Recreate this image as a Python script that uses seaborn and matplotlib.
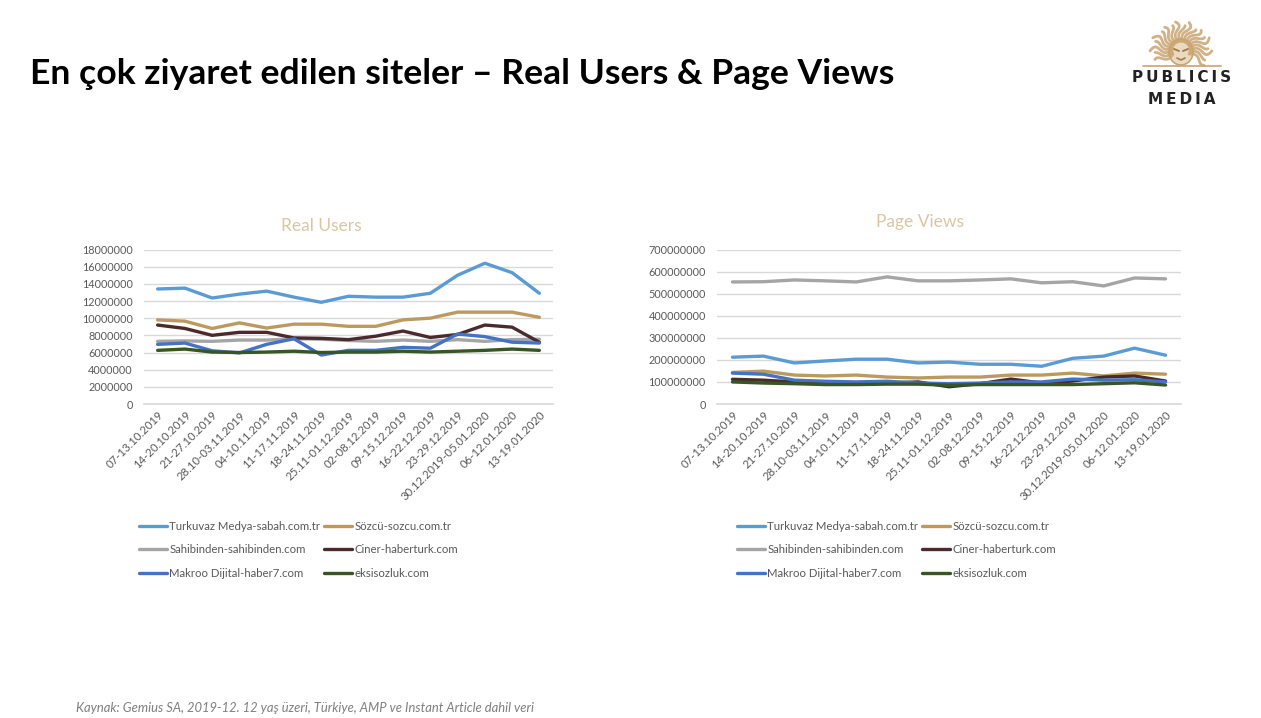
import numpy as np
import pandas as pd
import matplotlib
matplotlib.use("Agg")
import matplotlib.pyplot as plt
from matplotlib.patches import Ellipse
import seaborn as sns

weeks = ["07-13.10.2019", "14-20.10.2019", "21-27.10.2019", "28.10-03.11.2019",
         "04-10.11.2019", "11-17.11.2019", "18-24.11.2019", "25.11-01.12.2019",
         "02-08.12.2019", "09-15.12.2019", "16-22.12.2019", "23-29.12.2019",
         "30.12.2019-05.01.2020", "06-12.01.2020", "13-19.01.2020"]
sites = ["Turkuvaz Medya-sabah.com.tr", "Sözcü-sozcu.com.tr", "Sahibinden-sahibinden.com",
         "Ciner-haberturk.com", "Makroo Dijital-haber7.com", "eksisozluk.com"]
colors = ["#5B9BD5", "#BC9A5F", "#A5A5A5", "#4A2A2C", "#4472C4", "#375623"]

# Real Users
ru_turkuvaz = [13400000, 13500000, 12350000, 12800000, 13150000, 12450000, 11850000, 12550000,
               12450000, 12450000, 12900000, 15000000, 16400000, 15300000, 12900000]
ru_sozcu = [9800000, 9650000, 8800000, 9450000, 8850000, 9300000, 9300000, 9050000,
            9050000, 9800000, 10000000, 10700000, 10700000, 10700000, 10100000]
ru_sahibinden = [7300000, 7350000, 7300000, 7450000, 7450000, 7600000, 7550000, 7400000,
                 7300000, 7450000, 7300000, 7500000, 7300000, 7500000, 7550000]
ru_ciner = [9200000, 8800000, 8000000, 8350000, 8350000, 7700000, 7650000, 7500000,
            7900000, 8500000, 7750000, 8100000, 9200000, 8950000, 7200000]
ru_makroo = [6950000, 7100000, 6200000, 5950000, 6950000, 7600000, 5700000, 6250000,
             6250000, 6600000, 6500000, 8150000, 7850000, 7200000, 7100000]
ru_eksi = [6250000, 6400000, 6050000, 6000000, 6050000, 6150000, 6000000, 6050000,
           6050000, 6150000, 6050000, 6150000, 6250000, 6400000, 6250000]

# Page Views
pv_turkuvaz = [212000000, 217000000, 186000000, 195000000, 203000000, 203000000, 186000000, 190000000,
               180000000, 180000000, 171000000, 207000000, 217000000, 253000000, 221000000]
pv_sozcu = [143000000, 149000000, 131000000, 127000000, 131000000, 122000000, 118000000, 122000000,
            122000000, 131000000, 131000000, 140000000, 127000000, 140000000, 135000000]
pv_sahibinden = [553000000, 554000000, 562000000, 558000000, 553000000, 576000000, 558000000, 558000000,
                 562000000, 567000000, 549000000, 554000000, 535000000, 571000000, 567000000]
pv_ciner = [112000000, 108000000, 100000000, 92000000, 92000000, 95000000, 100000000, 78000000,
            92000000, 113000000, 95000000, 104000000, 122000000, 127000000, 104000000]
pv_makroo = [140000000, 135000000, 108000000, 103000000, 100000000, 103000000, 95000000, 92000000,
             95000000, 100000000, 100000000, 113000000, 108000000, 110000000, 100000000]
pv_eksi = [100000000, 95000000, 92000000, 88000000, 88000000, 90000000, 90000000, 85000000,
           88000000, 88000000, 88000000, 88000000, 92000000, 96000000, 86000000]

ru_ticks = [0, 2000000, 4000000, 6000000, 8000000, 10000000, 12000000, 14000000, 16000000, 18000000]
pv_ticks = [0, 100000000, 200000000, 300000000, 400000000, 500000000, 600000000, 700000000]

W, H = 1261, 718
sns.set_theme(style="white")
plt.rcParams["font.family"] = ["Lato", "DejaVu Sans"]

fig = plt.figure(figsize=(W / 100, H / 100), dpi=100, facecolor="white")


def make_axes(left, right, top, bottom):
    return fig.add_axes([left / W, 1 - bottom / H, (right - left) / W, (bottom - top) / H])


def draw_panel(ax, series, ticks, legend_x):
    df = pd.DataFrame({"week": weeks * len(sites),
                       "site": np.repeat(sites, len(weeks)),
                       "value": np.concatenate(series)})
    sns.lineplot(data=df, x="week", y="value", hue="site", hue_order=sites, palette=colors,
                 sort=False, errorbar=None, linewidth=2.4, ax=ax)
    ax.set_xlim(-0.5, len(weeks) - 0.5)
    ax.set_ylim(ticks[0], ticks[-1])
    ax.set_yticks(ticks)
    ax.set_yticklabels([str(t) for t in ticks], fontsize=7.8, color="#595959")
    ax.tick_params(axis="y", length=0, pad=8)
    ax.tick_params(axis="x", length=0, pad=4)
    plt.setp(ax.get_xticklabels(), rotation=45, ha="right", rotation_mode="anchor",
             fontsize=8.2, color="#595959")
    ax.set_xlabel("")
    ax.set_ylabel("")
    ax.grid(axis="y", color="#D9D9D9", linewidth=1)
    ax.set_axisbelow(True)
    sns.despine(ax=ax, left=True, top=True, right=True)
    ax.spines["bottom"].set_color("#D9D9D9")
    handles, labels = ax.get_legend_handles_labels()
    order = [0, 2, 4, 1, 3, 5]
    leg = ax.legend([handles[i] for i in order], [labels[i] for i in order], ncol=2,
                    loc="upper left", bbox_to_anchor=(legend_x / W, 1 - 520.5 / H),
                    bbox_transform=fig.transFigure, frameon=False, fontsize=8.2,
                    handlelength=2.45, handletextpad=0.2, columnspacing=0.35,
                    labelspacing=1.1, borderpad=0, borderaxespad=0)
    for text in leg.get_texts():
        text.set_color("#595959")


ax_ru = make_axes(144, 553, 249.5, 404)
draw_panel(ax_ru, [ru_turkuvaz, ru_sozcu, ru_sahibinden, ru_ciner, ru_makroo, ru_eksi], ru_ticks, 139)

ax_pv = make_axes(717, 1181, 249.5, 404)
draw_panel(ax_pv, [pv_turkuvaz, pv_sozcu, pv_sahibinden, pv_ciner, pv_makroo, pv_eksi], pv_ticks, 737)

# everything outside the charts goes on an overlay in pixel coordinates
over = fig.add_axes([0, 0, 1, 1], zorder=5)
over.set_xlim(0, W)
over.set_ylim(H, 0)
over.axis("off")

over.text(30, 74, "En çok ziyaret edilen siteler – Real Users & Page Views", fontsize=25.55,
          fontweight="bold", color="black", va="center", ha="left")
over.text(321, 226, "Real Users", fontsize=12.5, color="#D9C7A3", ha="center", va="center")
over.text(920, 222, "Page Views", fontsize=12.5, color="#D9C7A3", ha="center", va="center")
over.text(76, 708, "Kaynak: Gemius SA, 2019-12. 12 yaş üzeri, Türkiye, AMP ve Instant Article dahil veri",
          fontsize=9.4, fontstyle="italic", color="#7F7F7F", ha="left", va="center")

# logo: rough lion emblem plus the wordmark
gold = "#C9A470"
cx, cy = 1181, 50
angles = np.linspace(-28, 208, 19)
lengths = [28, 26, 31, 27, 31, 27, 29, 26, 30, 26, 30, 27, 29, 27, 31, 27, 31, 26, 28]
for a, rl in zip(angles, lengths):
    t = np.radians(a)
    r = np.linspace(9, rl, 14)
    bend = t + 0.16 * np.sin((r - 9) / 3.5)
    over.plot(cx + r * np.cos(bend), cy - 0.95 * r * np.sin(bend), color=gold, linewidth=2.0,
              solid_capstyle="round", alpha=0.85)
over.add_patch(Ellipse((cx, cy + 2), 24, 26, facecolor="#EADBC0", edgecolor=gold, linewidth=1.2))
over.plot([cx - 7, cx - 2], [cy - 1, cy + 1], color="#A07E4C", linewidth=1.4)
over.plot([cx + 2, cx + 7], [cy + 1, cy - 1], color="#A07E4C", linewidth=1.4)
over.plot([cx - 4, cx, cx + 4], [cy + 8, cy + 10, cy + 8], color="#A07E4C", linewidth=1.2)
over.plot([1143, 1221], [66, 66], color=gold, linewidth=1.2)
over.text(1182, 78, "P\u2009U\u2009B\u2009L\u2009I\u2009C\u2009I\u2009S", fontsize=11, fontweight="bold",
          color="#222222", ha="center", va="center", family=["DejaVu Sans"])
over.text(1182, 100, "M\u2009E\u2009D\u2009I\u2009A", fontsize=11, fontweight="bold",
          color="#222222", ha="center", va="center", family=["DejaVu Sans"])

fig.savefig("out.png", dpi=100, facecolor="white")
